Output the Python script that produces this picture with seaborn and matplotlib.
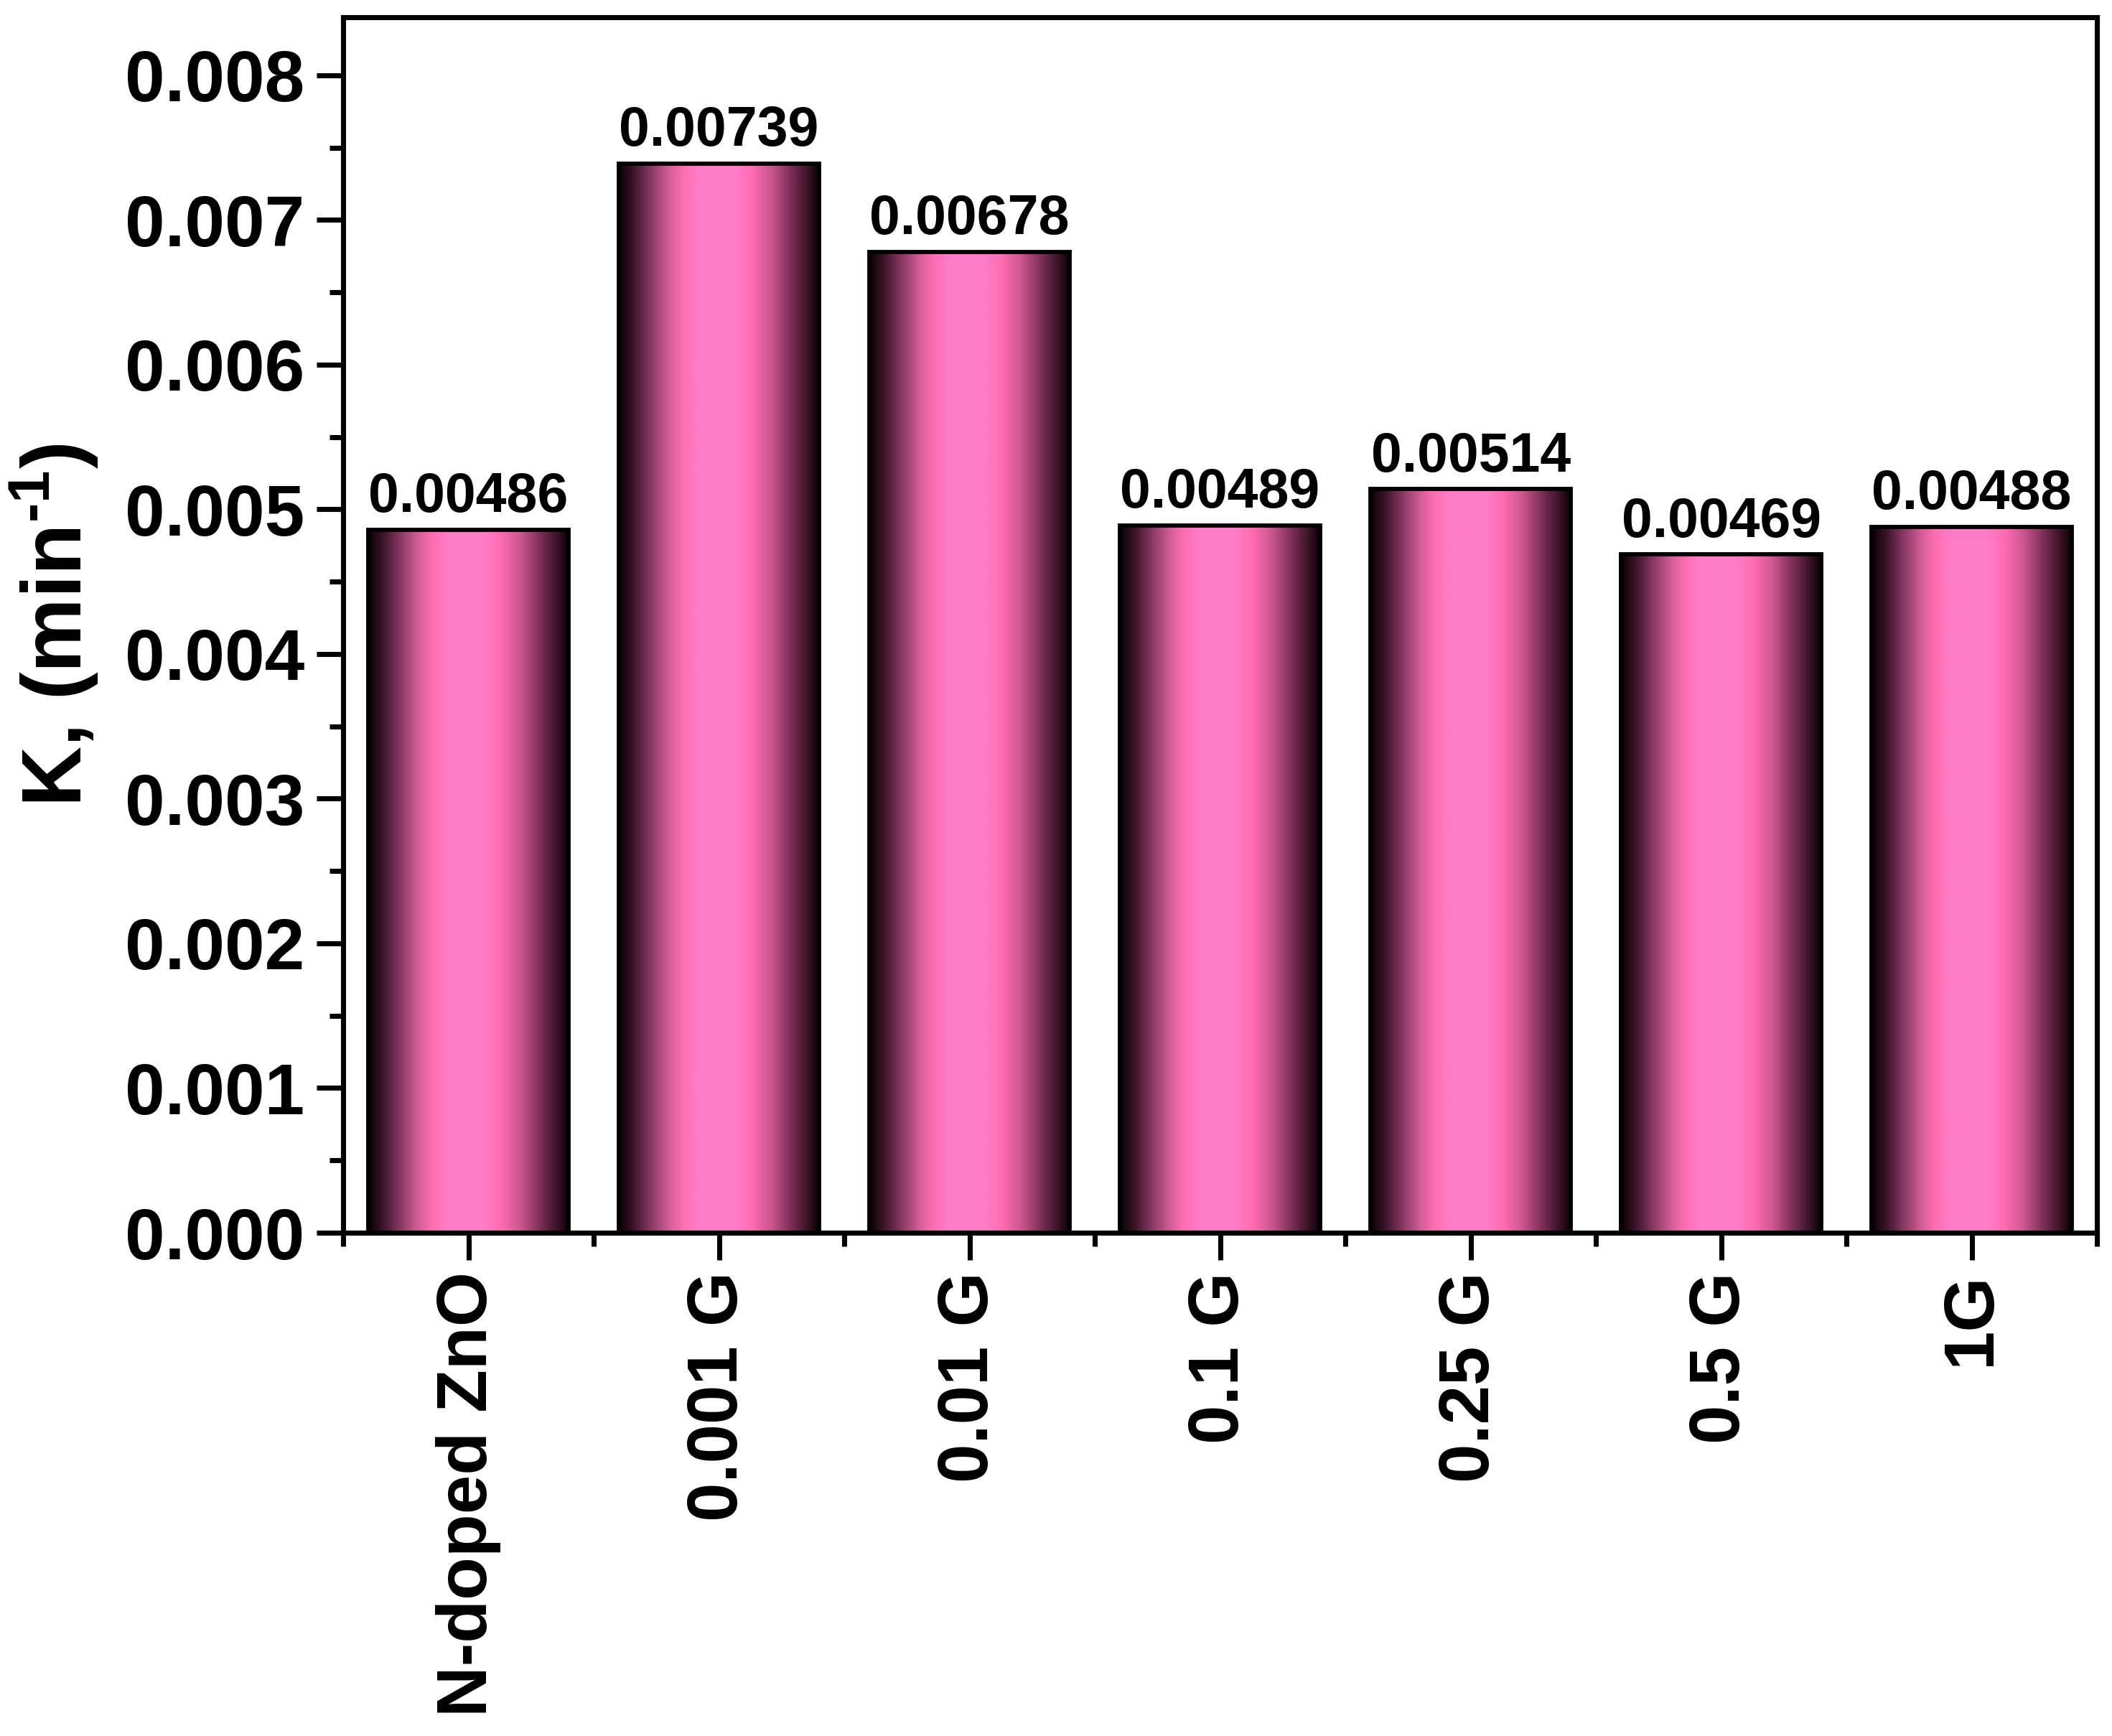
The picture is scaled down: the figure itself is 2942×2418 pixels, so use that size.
import numpy as np
import pandas as pd
import matplotlib
matplotlib.use("Agg")
import matplotlib.pyplot as plt
from matplotlib.colors import LinearSegmentedColormap
from matplotlib.ticker import FixedLocator, AutoMinorLocator, FormatStrFormatter
import seaborn as sns

categories = ["N-doped ZnO", "0.001 G", "0.01 G", "0.1 G", "0.25 G", "0.5 G", "1G"]
k_values = [0.00486, 0.00739, 0.00678, 0.00489, 0.00514, 0.00469, 0.00488]
y_ticks = [0.000, 0.001, 0.002, 0.003, 0.004, 0.005, 0.006, 0.007, 0.008]

sns.set_theme(style="white")
plt.rcParams['font.family'] = ['Liberation Sans', 'DejaVu Sans']
plt.rcParams['font.weight'] = 'bold'
plt.rcParams['text.color'] = 'black'
plt.rcParams['axes.labelcolor'] = 'black'
plt.rcParams['xtick.color'] = 'black'
plt.rcParams['ytick.color'] = 'black'
plt.rcParams['mathtext.fontset'] = 'custom'
plt.rcParams['mathtext.rm'] = 'Liberation Sans:bold'
plt.rcParams['mathtext.bf'] = 'Liberation Sans:bold'
plt.rcParams['mathtext.it'] = 'Liberation Sans:bold'

df = pd.DataFrame({"cat": categories, "k": k_values})

fig = plt.figure(figsize=(2942/300, 2418/300), dpi=300)
ax = fig.add_axes([0.1625, 0.2899, 0.9929-0.1625, 0.9900-0.2899])

sns.barplot(data=df, x="cat", y="k", ax=ax, width=0.8, color="#ff7ec8", saturation=1)

cmap = LinearSegmentedColormap.from_list("pinkbar", [
    (0.00, "#0a0005"),
    (0.07, "#3a1428"),
    (0.16, "#8a3a64"),
    (0.25, "#d35e98"),
    (0.32, "#ff6eb4"),
    (0.39, "#ff7cc6"),
    (0.58, "#ff7cc6"),
    (0.66, "#ff6cb2"),
    (0.76, "#c9568e"),
    (0.86, "#7a2e55"),
    (0.94, "#3a1428"),
    (1.00, "#0a0005"),
])
grad = np.linspace(0, 1, 256)[np.newaxis, :]

for p in ax.patches:
    x0, y0, w, h = p.get_x(), p.get_y(), p.get_width(), p.get_height()
    ax.imshow(grad, extent=[x0, x0 + w, y0, y0 + h], aspect='auto', cmap=cmap,
              origin='lower', zorder=2, interpolation='bilinear')
    p.set_facecolor('none')
    p.set_edgecolor('black')
    p.set_linewidth(1.4)
    p.set_zorder(3)

ax.bar_label(ax.containers[0], fmt='%.5f', padding=2, fontsize=18.5,
             fontweight='bold', color='black', zorder=4)

ax.set_xlim(-0.5, len(categories) - 0.5)
ax.set_ylim(0, 0.0084)
ax.set_yticks(y_ticks)
ax.yaxis.set_major_formatter(FormatStrFormatter('%.3f'))
ax.yaxis.set_minor_locator(AutoMinorLocator(2))
ax.xaxis.set_minor_locator(FixedLocator(np.arange(-0.5, len(categories), 1.0)))
ax.set_xticks(range(len(categories)))
ax.set_xticklabels(categories, rotation=90, fontsize=23.5, fontweight='bold', color='black')
for lab in ax.get_yticklabels():
    lab.set_fontsize(24)
    lab.set_fontweight('bold')
    lab.set_color('black')

ax.tick_params(axis='both', which='major', direction='out', length=9, width=1.7,
               color='black', labelcolor='black', bottom=True, left=True,
               top=False, right=False, pad=4)
ax.tick_params(axis='both', which='minor', direction='out', length=4.5, width=1.7,
               color='black', bottom=True, left=True, top=False, right=False)

for s in ax.spines.values():
    s.set_visible(True)
    s.set_color('black')
    s.set_linewidth(1.7)

ax.set_xlabel("")
ax.set_ylabel(r"K, (min$^{\text{-1}}$)", fontsize=28, fontweight='bold', labelpad=8,
              color='black')
ax.grid(False)
ax.set_facecolor('white')
fig.patch.set_facecolor('white')

fig.savefig("out.png", dpi=300, facecolor='white')
